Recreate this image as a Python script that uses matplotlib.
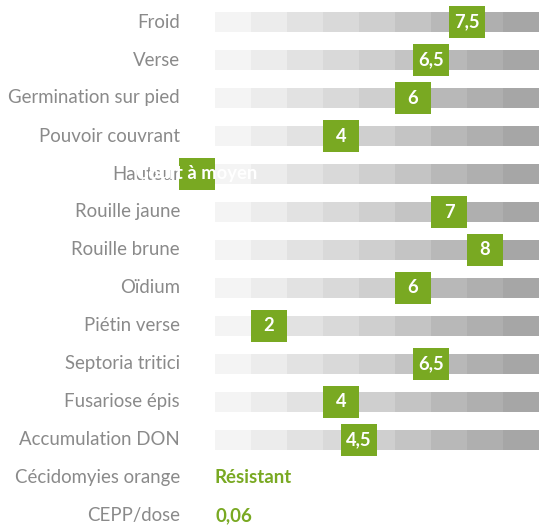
import matplotlib
matplotlib.use("Agg")
import matplotlib.pyplot as plt
from matplotlib.patches import Rectangle

# scores on a 1..9 scale (0 = text rating placed before the scale)
labels = ["Froid", "Verse", "Germination sur pied", "Pouvoir couvrant", "Hauteur",
          "Rouille jaune", "Rouille brune", "Oïdium", "Piétin verse",
          "Septoria tritici", "Fusariose épis", "Accumulation DON"]
values = [7.5, 6.5, 6, 4, 0, 7, 8, 6, 2, 6.5, 4, 4.5]
value_text = ["7,5", "6,5", "6", "4", "Court à moyen", "7", "8", "6", "2",
              "6,5", "4", "4,5"]
extra_labels = ["Cécidomyies orange", "CEPP/dose"]
extra_text = ["Résistant", "0,06"]

shades = ["#f4f4f4", "#ececec", "#e2e2e2", "#d9d9d9", "#cfcfcf",
          "#c4c4c4", "#b8b8b8", "#afafaf", "#a6a6a6"]
green = "#79a922"
gray_txt = "#8a8a8a"
font = "Lato"

W, H = 539, 526
fig = plt.figure(figsize=(W / 100, H / 100), dpi=100)
ax = fig.add_axes([215 / W, 0, 324 / W, 1])
ax.set_xlim(0, 9)
top, step = 22, 38
ax.set_ylim((H - top) / step, -top / step)
ax.axis("off")

for i, (lab, v, t) in enumerate(zip(labels, values, value_text)):
    for k, c in enumerate(shades):
        ax.add_patch(Rectangle((k, i - 0.263), 1, 0.526, facecolor=c, lw=0))
    ax.text(-0.97, i, lab, ha="right", va="center", fontsize=13.4,
            color=gray_txt, family=font, clip_on=False)
    ax.add_patch(Rectangle((v - 1, i - 0.415), 1, 0.83, facecolor=green,
                           lw=0, clip_on=False, zorder=3))
    ax.text(v - 0.5, i, t, ha="center", va="center", fontsize=13.2,
            color="white", weight="bold", family=font, zorder=4, clip_on=False)

n = len(labels)
for j, (lab, t) in enumerate(zip(extra_labels, extra_text)):
    ax.text(-0.97, n + j, lab, ha="right", va="center", fontsize=13.4,
            color=gray_txt, family=font, clip_on=False)
    ax.text(0, n + j, t, ha="left", va="center", fontsize=13.4,
            color=green, weight="bold", family=font, clip_on=False)

fig.savefig("out.png", dpi=100)
